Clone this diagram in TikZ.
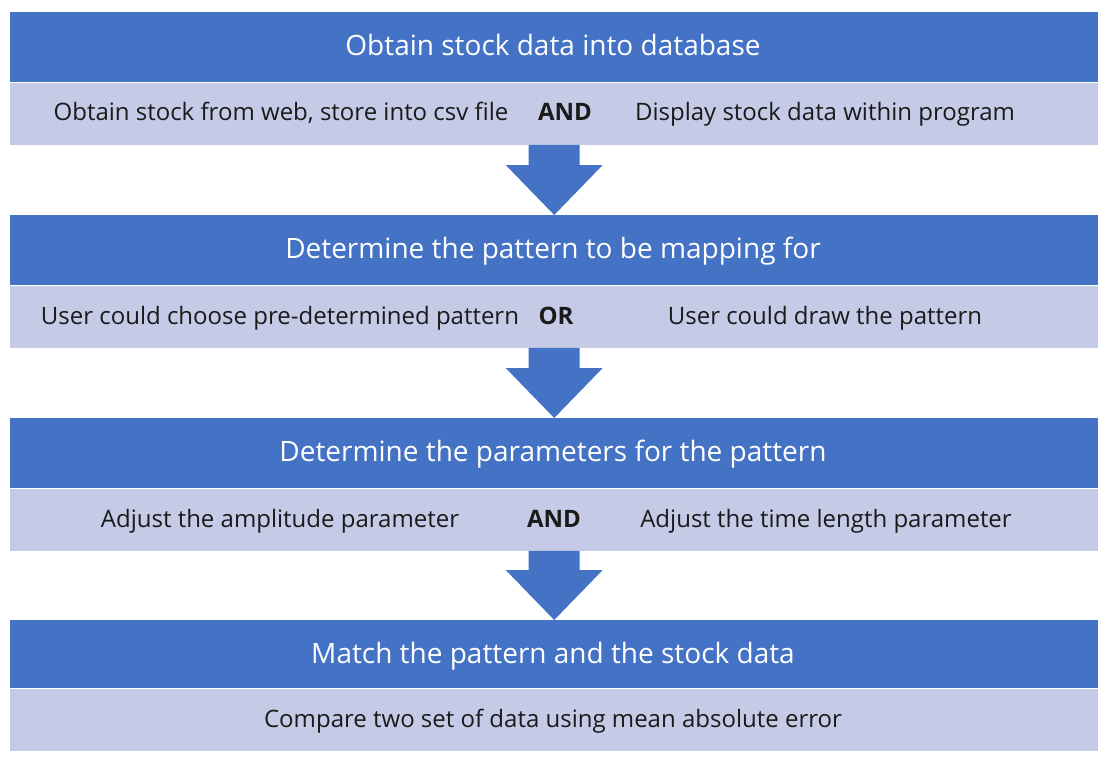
\documentclass[tikz,border=0pt]{standalone}
\usepackage{fontspec}
\setmainfont{Open Sans}
\usetikzlibrary{calc}
\definecolor{hdrblue}{HTML}{4472C4}
\definecolor{sublight}{HTML}{C5CBE6}
\definecolor{txtdark}{HTML}{1A1A1A}
\begin{document}
\begin{tikzpicture}[x=1pt,y=-1pt,
  hdrbox/.style={fill=hdrblue, draw=none, minimum width=1088pt, minimum height=70pt, inner sep=0pt, anchor=north west},
  subbox/.style={fill=sublight, draw=none, minimum width=1088pt, minimum height=62pt, inner sep=0pt, anchor=north west},
  hdrtext/.style={text=white, font=\fontsize{28}{33}\selectfont, inner sep=0pt, anchor=base},
  subtext/.style={text=txtdark, font=\fontsize{24}{29}\selectfont, inner sep=0pt, anchor=base},
  optext/.style={text=txtdark, font=\fontsize{24}{29}\selectfont\bfseries, inner sep=0pt, anchor=base},
  flowarrow/.style={fill=hdrblue, draw=none}
]
\useasboundingbox (0,0) rectangle (1100,757);
\fill[white] (0,0) rectangle (1100,757);

% band 1
\node[hdrbox] (h1) at (10,12) {};
\node[subbox] (s1) at (h1.south west) {};
\node[hdrtext] (h1t) at (553,56) {Obtain stock data into database};
\node[subtext] (s1a) at (281,121) {Obtain stock from web, store into csv file};
\node[optext] (s1o) at (565,121) {AND};
\node[subtext] (s1b) at (825,121) {Display stock data within program};

% band 2
\node[hdrbox] (h2) at (10,215) {};
\node[subbox] (s2) at (h2.south west) {};
\node[hdrtext] (h2t) at (553,258) {Determine the pattern to be mapping for};
\node[subtext] (s2a) at (280,324) {User could choose pre-determined pattern};
\node[optext] (s2o) at (556,324) {OR};
\node[subtext] (s2b) at (825,324) {User could draw the pattern};

% band 3
\node[hdrbox] (h3) at (10,418) {};
\node[subbox] (s3) at (h3.south west) {};
\node[hdrtext] (h3t) at (553,461) {Determine the parameters for the pattern};
\node[subtext] (s3a) at (280,527) {Adjust the amplitude parameter};
\node[optext] (s3o) at (554,527) {AND};
\node[subtext] (s3b) at (826,527) {Adjust the time length parameter};

% band 4
\node[hdrbox, minimum height=68pt] (h4) at (10,620) {};
\node[subbox] (s4) at (h4.south west) {};
\node[hdrtext] (h4t) at (553,663) {Match the pattern and the stock data};
\node[subtext] (s4a) at (553,727) {Compare two set of data using mean absolute error};

% arrows
\foreach \a/\b in {s1/h2, s2/h3, s3/h4}{
  \fill[flowarrow] ($(\a.south)+(-25.5,0)$) -- ($(\a.south)+(25.5,0)$)
    -- ($(\b.north)+(25.5,-50)$) -- ($(\b.north)+(48.5,-50)$) -- (\b.north)
    -- ($(\b.north)+(-48.5,-50)$) -- ($(\b.north)+(-25.5,-50)$) -- cycle;
}
\end{tikzpicture}
\end{document}
